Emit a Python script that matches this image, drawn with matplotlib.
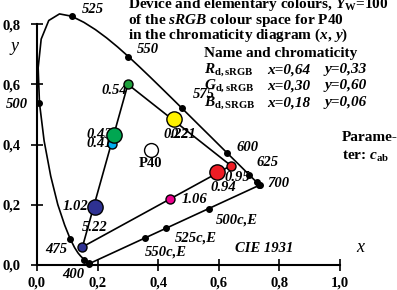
import matplotlib
matplotlib.use('Agg')
import matplotlib.pyplot as plt
import numpy as np

# CIE 1931 spectral locus, 400..700 nm in 5 nm steps
WAVELENGTHS = np.arange(400, 705, 5)
LOCUS_X = [0.1733, 0.1730, 0.1726, 0.1721, 0.1714, 0.1703, 0.1689, 0.1669, 0.1644, 0.1611,
           0.1566, 0.1510, 0.1440, 0.1355, 0.1241, 0.1096, 0.0913, 0.0687, 0.0454, 0.0235,
           0.0082, 0.0039, 0.0139, 0.0389, 0.0743, 0.1142, 0.1547, 0.1929, 0.2296, 0.2658,
           0.3016, 0.3373, 0.3731, 0.4087, 0.4441, 0.4788, 0.5125, 0.5448, 0.5752, 0.6029,
           0.6270, 0.6482, 0.6658, 0.6801, 0.6915, 0.7006, 0.7079, 0.7140, 0.7190, 0.7230,
           0.7260, 0.7283, 0.7300, 0.7311, 0.7320, 0.7327, 0.7334, 0.7340, 0.7344, 0.7346,
           0.7347]
LOCUS_Y = [0.0048, 0.0048, 0.0048, 0.0048, 0.0051, 0.0058, 0.0069, 0.0086, 0.0109, 0.0138,
           0.0177, 0.0227, 0.0297, 0.0399, 0.0578, 0.0868, 0.1327, 0.2007, 0.2950, 0.4127,
           0.5384, 0.6548, 0.7502, 0.8120, 0.8338, 0.8262, 0.8059, 0.7816, 0.7543, 0.7243,
           0.6923, 0.6589, 0.6245, 0.5896, 0.5547, 0.5202, 0.4866, 0.4544, 0.4242, 0.3965,
           0.3725, 0.3514, 0.3340, 0.3197, 0.3083, 0.2993, 0.2920, 0.2859, 0.2809, 0.2770,
           0.2740, 0.2717, 0.2700, 0.2689, 0.2680, 0.2673, 0.2666, 0.2660, 0.2656, 0.2654,
           0.2653]
DOT_WAVELENGTHS = [400, 425, 450, 475, 500, 525, 550, 575, 600, 625, 650, 675, 700]

# compensation wavelengths on the purple line
COMP_LABELS = ['500c,E', '525c,E', '550c,E']
COMP_X = [0.566, 0.427, 0.355]
COMP_Y = [0.187, 0.123, 0.089]

# device primaries
PRIM_X = [0.64, 0.30, 0.15]
PRIM_Y = [0.33, 0.60, 0.06]

# elementary colours and other points
ELEM_X = [0.594, 0.452, 0.254, 0.191]
ELEM_Y = [0.309, 0.485, 0.432, 0.193]
ELEM_COLORS = ['#ee1c24', '#fff200', '#00a651', '#2e3192']
SMALL_X = [0.247, 0.439]
SMALL_Y = [0.402, 0.219]
SMALL_COLORS = ['#00aeef', '#ec008c']
PRIM_COLORS = ['#ee1c24', '#1fa03c', '#2e3192']
WHITE_X, WHITE_Y = 0.376, 0.382

XTICKS = [0.0, 0.2, 0.4, 0.6, 0.8, 1.0]
YTICKS = [0.0, 0.2, 0.4, 0.6, 0.8]

SERIF = 'Liberation Serif'
plt.rcParams['font.family'] = SERIF
plt.rcParams['mathtext.fontset'] = 'custom'
plt.rcParams['mathtext.rm'] = 'Liberation Serif:bold'
plt.rcParams['mathtext.it'] = 'Liberation Serif:italic:bold'
plt.rcParams['mathtext.bf'] = 'Liberation Serif:bold'

fig = plt.figure(figsize=(3.97, 2.90), dpi=100)
ax = fig.add_axes([0, 0, 1, 1])
ax.set_xlim(-0.122, 1.188)
ax.set_ylim(-0.083, 0.880)

# axes as spines through the origin
for s in ['top', 'right']:
    ax.spines[s].set_visible(False)
ax.spines['left'].set_position(('data', 0))
ax.spines['bottom'].set_position(('data', 0))
ax.spines['left'].set_bounds(0, 0.8)
ax.spines['bottom'].set_bounds(0, 1.0)
for s in ['left', 'bottom']:
    ax.spines[s].set_linewidth(1.5)
ax.set_xticks(XTICKS)
ax.set_yticks(YTICKS)
ax.set_xticklabels([f'{v:.1f}'.replace('.', ',') for v in XTICKS],
                   fontsize=10.5, fontweight='bold')
ax.set_yticklabels([f'{v:.1f}'.replace('.', ',') for v in YTICKS],
                   fontsize=10.5, fontweight='bold')
ax.tick_params(direction='inout', length=8, width=1.2)
ax.tick_params(axis='y', pad=8)
ax.tick_params(axis='x', pad=4)
ax.patch.set_alpha(0)

# spectral locus and purple line
ax.plot(LOCUS_X, LOCUS_Y, color='black', lw=1.2, zorder=2)
ax.plot([LOCUS_X[0], LOCUS_X[-1]], [LOCUS_Y[0], LOCUS_Y[-1]], color='black', lw=1.2, zorder=2)
idx = [list(WAVELENGTHS).index(w) for w in DOT_WAVELENGTHS]
ax.plot([LOCUS_X[i] for i in idx], [LOCUS_Y[i] for i in idx], 'o', color='black', ms=4, zorder=3)
ax.plot(COMP_X, COMP_Y, 'o', color='black', ms=4, zorder=3)

# device triangle
ax.plot(PRIM_X + PRIM_X[:1], PRIM_Y + PRIM_Y[:1], color='black', lw=1.2, zorder=2)

lab = dict(fontsize=10.5, fontweight='bold', style='italic', va='center', ha='left')
# wavelength labels
for txt, xx, yy in [('525', 0.148, 0.847), ('550', 0.330, 0.714), ('575', 0.515, 0.565),
                    ('600', 0.657, 0.389), ('625', 0.726, 0.339), ('700', 0.759, 0.269),
                    ('500', -0.102, 0.532), ('475', 0.026, 0.053), ('400', 0.082, -0.033)]:
    ax.text(xx, yy, txt, **lab)
for txt, xx, yy in [('500c,E', 0.591, 0.150), ('525c,E', 0.455, 0.090), ('550c,E', 0.356, 0.043),
                    ('CIE 1931', 0.653, 0.056)]:
    ax.text(xx, yy, txt, **lab)
ax.text(1.066, 0.058, 'x', fontsize=13, style='italic', ha='center', va='center')
ax.text(-0.073, 0.724, 'y', fontsize=13, style='italic', ha='center', va='center')

# point labels (drawn below the markers)
for txt, xx, yy in [('0.43', 0.162, 0.435), ('0.41', 0.162, 0.405), ('0.22', 0.416, 0.435),
                    ('0.21', 0.440, 0.435), ('1.02', 0.086, 0.193), ('5.22', 0.149, 0.126),
                    ('1.06', 0.478, 0.219), ('0.94', 0.571, 0.259), ('0.95', 0.620, 0.289)]:
    ax.text(xx, yy, txt, zorder=3, **lab)
ax.text(0.297, 0.581, '0.54', zorder=3, **{**lab, 'ha': 'right'})

# colour markers
for xx, yy, c in zip(PRIM_X, PRIM_Y, PRIM_COLORS):
    ax.plot(xx, yy, 'o', ms=6.5, mfc=c, mec='black', mew=1.0, zorder=5)
for xx, yy, c in zip(SMALL_X, SMALL_Y, SMALL_COLORS):
    ax.plot(xx, yy, 'o', ms=6.5, mfc=c, mec='black', mew=1.0, zorder=5)
for xx, yy, c in zip(ELEM_X, ELEM_Y, ELEM_COLORS):
    ax.plot(xx, yy, 'o', ms=11, mfc=c, mec='black', mew=1.0, zorder=5)
ax.plot(WHITE_X, WHITE_Y, 'o', ms=10, mfc='white', mec='black', mew=1.0, zorder=5)
ax.text(WHITE_X, 0.337, 'P40', fontsize=10.5, fontweight='bold', ha='center', va='center')

# header text
hd = dict(fontsize=11, fontweight='bold', ha='left', va='center')
ax.text(0.300, 0.866, r'Device and elementary colours, $Y_{\mathrm{W}}$=100', **hd)
ax.text(0.300, 0.812, r'of the $\mathit{sRGB}$ colour space for P40', **hd)
ax.text(0.300, 0.762, r'in the chromaticity diagram $(x,\,y)$', **hd)
ax.text(0.551, 0.704, 'Name and chromaticity', **hd)
for name, yy, xs, ys in [(r'$R_{\mathrm{d,sRGB}}$', 0.648, '0,64', '0,33'),
                         (r'$G_{\mathrm{d,sRGB}}$', 0.595, '0,30', '0,60'),
                         (r'$B_{\mathrm{d,SRGB}}$', 0.538, '0,18', '0,06')]:
    ax.text(0.551, yy, name, **hd)
    ax.text(0.759, yy, 'x=' + xs, fontsize=11, fontweight='bold', style='italic', va='center')
    ax.text(0.950, yy, 'y=' + ys, fontsize=11, fontweight='bold', style='italic', va='center')
ax.text(1.007, 0.422, 'Parame-', **hd)
ax.text(1.007, 0.359, r'ter: $c_{\mathrm{ab}}$', **hd)

fig.savefig('out.png', dpi=100)
